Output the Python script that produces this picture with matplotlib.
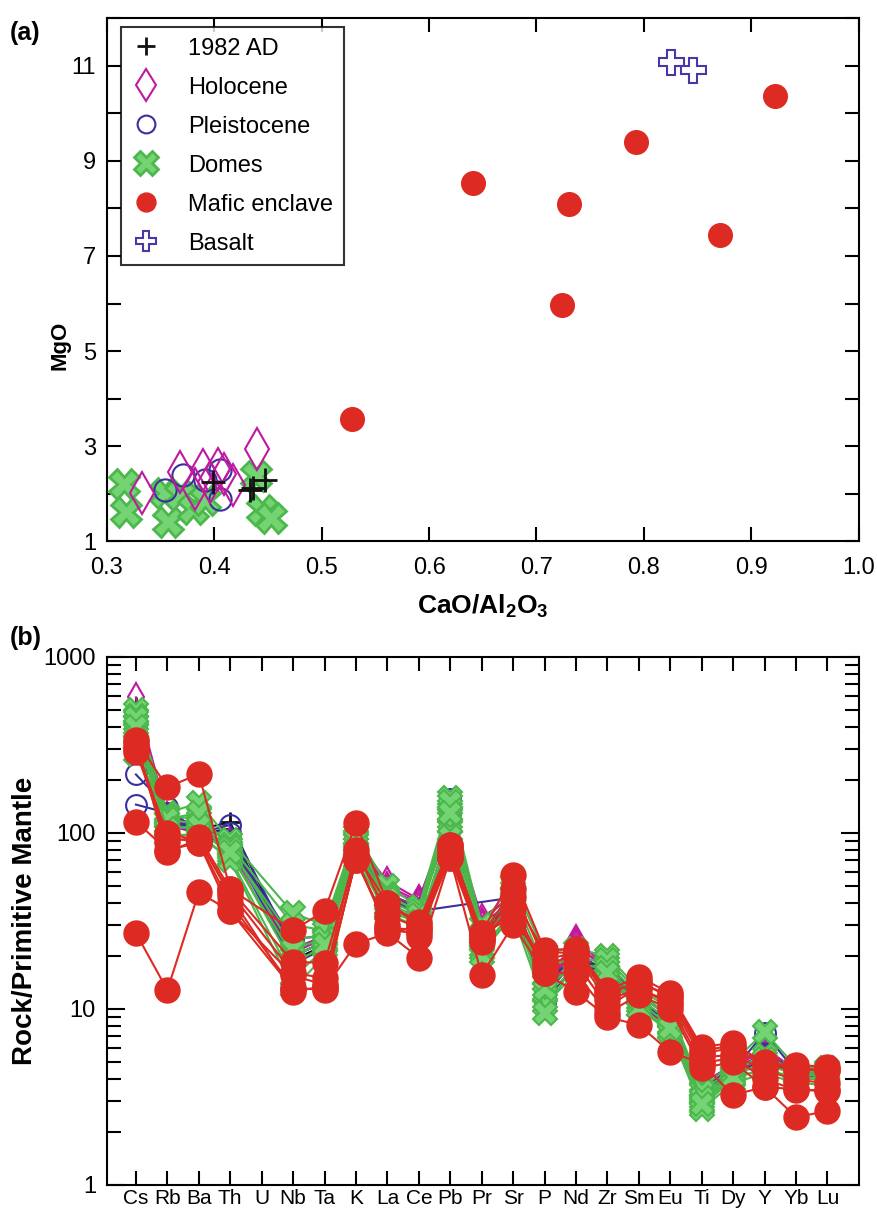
import numpy as np
import matplotlib
matplotlib.use("Agg")
from matplotlib import pyplot as plt
from matplotlib.ticker import MultipleLocator, LogLocator, NullFormatter

plt.rcParams["font.family"] = ["Liberation Sans", "DejaVu Sans"]
plt.rcParams["mathtext.fontset"] = "custom"
plt.rcParams["mathtext.rm"] = "Liberation Sans"
plt.rcParams["mathtext.bf"] = "Liberation Sans:bold"

# ---- panel (a): CaO/Al2O3 vs MgO ----
ad1982_x = [0.399, 0.436, 0.447, 0.433]
ad1982_y = [2.24, 2.13, 2.28, 2.07]
holocene_x = [0.333, 0.368, 0.389, 0.396, 0.403, 0.409, 0.417, 0.382, 0.440]
holocene_y = [2.01, 2.45, 2.49, 2.24, 2.53, 2.41, 2.18, 2.11, 2.95]
pleist_x = [0.354, 0.371, 0.405, 0.405, 0.391]
pleist_y = [2.07, 2.39, 2.49, 1.90, 2.28]
domes_x = [0.316, 0.318, 0.354, 0.357, 0.368, 0.380, 0.391, 0.439, 0.444, 0.453]
domes_y = [2.20, 1.61, 2.01, 1.40, 1.97, 1.69, 1.86, 2.37, 1.65, 1.48]
mafic_x = [0.528, 0.641, 0.724, 0.730, 0.793, 0.871, 0.922]
mafic_y = [3.58, 8.54, 5.96, 8.10, 9.40, 7.45, 10.37]
basalt_x = [0.825, 0.846]
basalt_y = [11.08, 10.90]

# ---- panel (b): primitive-mantle normalised spider diagram ----
elements = ["Cs", "Rb", "Ba", "Th", "U", "Nb", "Ta", "K", "La", "Ce", "Pb", "Pr",
            "Sr", "P", "Nd", "Zr", "Sm", "Eu", "Ti", "Dy", "Y", "Yb", "Lu"]
nan = np.nan
ad1982_spider = [
    [520, 120, 105, 115, nan, 20, 24, 85, 45, 38, 120, 28, 42, 13, 21, 16, 11, 8.0, 3.4, 4.5, 5.3, 4.3, 4.3],
    [480, 115, 100, 105, nan, 19, 23, 82, 43, 36, 115, 27, 40, 12, 20, 15, 10.5, 7.8, 3.3, 4.4, 5.0, 4.2, 4.2],
]
holocene_spider = [
    [590, 125, 110, 90, nan, 22, 26, 90, 53, 42, 125, 33, 44, 14, 25, 17, 11.5, 8.5, 3.8, 4.8, 6.0, 4.5, 4.4],
    [450, 115, 105, 85, nan, 20, 24, 85, 48, 40, 120, 30, 42, 13, 24, 16, 11, 8.0, 3.5, 4.6, 5.5, 4.3, 4.2],
    [400, 110, 100, 80, nan, 18, 23, 80, 45, 38, 110, 28, 40, 12, 22, 15, 10.5, 7.8, 3.3, 4.4, 5.2, 4.2, 4.1],
    [350, 120, 108, 82, nan, 21, 25, 88, 50, 41, 130, 31, 46, 13, 23, 17, 11, 8.2, 3.6, 4.7, 5.8, 4.4, 4.3],
]
pleist_spider = [
    [215, 140, 100, 111, nan, 22, 25, 85, 42, 36, 155, 28, 44, 13, 19, 17, 11, 8.5, 3.6, 4.5, 7.3, 4.4, 4.4],
    [145, 130, 95, 90, nan, 18, 22, 80, 40, 36, nan, nan, 43, 14, 20, 16, 11, 8.0, 3.4, 4.4, 5.5, 4.2, 4.2],
    [400, 120, 105, 100, nan, 20, 24, 90, 44, 37, 140, 26, 40, 12, 19, 17, 12, 9.0, 3.5, 4.6, 5.5, 4.5, 4.5],
    [350, 115, 100, 85, nan, 25, 26, 88, 45, 36, 130, 27, 42, 11, 18, 16, 11, 8.0, 3.3, 4.3, 5.0, 4.3, 4.3],
]
domes_spider = [
    [500, 130, 148, 91, nan, 35, 30, 100, 50, 38, 158, 30, 52, 21, 22, 20, 13, 10, 3.5, 5.0, 7.4, 4.7, 4.6],
    [460, 118, 114, 80, nan, 25, 26, 90, 45, 35, 140, 27, 45, 17, 20, 18, 12, 9.0, 3.2, 4.5, 5.5, 4.4, 4.4],
    [420, 110, 105, 75, nan, 20, 24, 85, 40, 33, 125, 24, 40, 14, 18, 17, 11, 8.0, 3.0, 4.2, 5.0, 4.2, 4.2],
    [380, 100, 95, 72, nan, 15, 22, 80, 38, 30, 110, 22, 36, 12, 17, 16, 10.5, 7.5, 2.8, 4.0, 4.6, 4.0, 4.0],
    [330, 95, 100, 70, nan, 13, 20, 70, 35, 29, 100, 21, 34, 10.5, 16, 15, 10, 7.4, 2.7, 3.8, 4.3, 3.8, 3.7],
    [280, 125, 120, 85, nan, 30, 28, 95, 44, 36, 150, 26, 48, 9.5, 19, 19, 12.5, 9.0, 3.4, 4.6, 5.2, 4.5, 4.5],
    [450, 120, 130, 82, nan, 22, 25, 92, 42, 34, 130, 25, 42, 13, 18, 17, 11.5, 8.5, 3.1, 4.3, 4.8, 4.3, 4.3],
    [400, 105, 110, 78, nan, 18, 23, 75, 36, 31, 95, 20, 38, 15, 17, 16, 10, 7.8, 2.9, 4.1, 4.5, 4.1, 4.0],
]
mafic_spider = [
    [27, 12.8, 46, 36, nan, 13, 13, 23.4, 27, 19.6, 72, 15.6, 30, 16, 12.5, 9.0, 8.1, 5.7, 4.9, 3.25, 3.6, 2.43, 2.63],
    [116, 80, 88, 36, nan, 15.5, 13.7, 70, 30, 25.7, 75, 25, 38, 17.3, 18.3, 10.3, 13.3, 10.5, 4.9, 5.3, 4.0, 3.46, 3.46],
    [338, 182, 216, 48, nan, 28, 36, 114, 40, 31, 85, 27, 58, 21.6, 22, 12.8, 15.2, 12.3, 6.1, 6.4, 4.9, 4.8, 4.7],
    [296, 89, 95, 48, nan, 18.5, 18.3, 75, 40, 30, 85, 25, 43, 21, 20.8, 12, 14.5, 11.5, 5.6, 6.0, 4.8, 4.5, 4.5],
    [310, 95, 88, 40, nan, 13.2, 12.8, 72, 28, 27, 72, 24, 38, 16, 16, 9.5, 12, 10, 4.6, 5.0, 3.6, 3.5, 3.4],
    [330, 78, 92, 44, nan, 12.5, 13.5, 70, 29, 28, 78, 27, 33, 18, 20, 11.3, 13, 11, 5.3, 5.5, 4.5, 3.95, 3.8],
    [290, 100, 90, 46, nan, 16, 15, 80, 34, 29, 82, 26, 48, 19, 21, 12.5, 14, 12, 5.8, 6.2, 5.0, 4.6, 4.5],
]

black = "#111111"
magenta = "#c0189f"
blue = "#3a2fa0"
green_edge = "#4cb84c"
green_face = "#74d474"
red = "#dd2a22"
purple = "#4b36a8"

fig = plt.figure(figsize=(8.77, 12.11), dpi=100)
ax1 = fig.add_axes([0.122, 0.553, 0.857, 0.432])
ax2 = fig.add_axes([0.122, 0.0215, 0.857, 0.436])

###
# panel (a)
ax1.plot(domes_x, domes_y, ls="none", marker="X", ms=21, mfc=green_face, mec=green_edge, mew=2, label="Domes", zorder=3)
ax1.plot(pleist_x, pleist_y, ls="none", marker="o", ms=16, mfc="none", mec=blue, mew=1.5, label="Pleistocene", zorder=4)
ax1.plot(holocene_x, holocene_y, ls="none", marker="d", ms=21, mfc="none", mec=magenta, mew=1.5, label="Holocene", zorder=5)
ax1.plot(ad1982_x, ad1982_y, ls="none", marker="+", ms=17, mec=black, mew=2, label="1982 AD", zorder=6)
ax1.plot(mafic_x, mafic_y, ls="none", marker="o", ms=17, mfc=red, mec=red, label="Mafic enclave", zorder=6)
ax1.plot(basalt_x, basalt_y, ls="none", marker="P", ms=18, mfc="white", mec=purple, mew=1.5, label="Basalt", zorder=6)

ax1.set_xlim(0.3, 1.0)
ax1.set_ylim(1, 12)
ax1.xaxis.set_major_locator(MultipleLocator(0.1))
ax1.yaxis.set_major_locator(MultipleLocator(2, offset=1))
ax1.yaxis.set_minor_locator(MultipleLocator(1))
ax1.tick_params(which="both", direction="in", top=True, right=True, length=10, width=1.5, labelsize=17)
ax1.tick_params(axis="x", pad=11)
ax1.tick_params(axis="y", pad=8)
ax1.set_xlabel(r"$\mathbf{CaO/Al_2O_3}$", fontsize=19, labelpad=10)
ax1.set_ylabel("MgO", fontsize=16, fontweight="bold")
ax1.yaxis.set_label_coords(-0.049, 0.375)

handles, labels = ax1.get_legend_handles_labels()
order = ["1982 AD", "Holocene", "Pleistocene", "Domes", "Mafic enclave", "Basalt"]
h = [handles[labels.index(o)] for o in order]
leg = ax1.legend(h, order, loc="upper left", fontsize=17, frameon=True, fancybox=False,
                 edgecolor="black", labelspacing=0.72, handletextpad=1.2, handlelength=1.2,
                 borderpad=0.45, borderaxespad=0, bbox_to_anchor=(0.0186, 0.983))
leg.get_frame().set_linewidth(1.5)
for lh in leg.legend_handles:
    lh.set_markersize(lh.get_markersize() * 0.8)

###
# panel (b)
xs = np.arange(len(elements))


def draw_group(series, color, marker, ms, mfc, mec, mew, z):
    for s in series:
        s = np.asarray(s, dtype=float)
        ok = np.isfinite(s)
        ax2.plot(xs[ok], s[ok], color=color, lw=1.5, marker=marker, ms=ms,
                 mfc=mfc, mec=mec, mew=mew, zorder=z)


draw_group(ad1982_spider, black, "+", 14, black, black, 2, 2)
draw_group(holocene_spider, magenta, "d", 14, "none", magenta, 1.5, 3)
draw_group(pleist_spider, blue, "o", 15, "none", blue, 1.5, 4)
draw_group(domes_spider, green_edge, "X", 17, green_face, green_edge, 1.5, 5)
draw_group(mafic_spider, red, "o", 18, red, red, 1, 6)

ax2.set_yscale("log")
ax2.set_ylim(1, 1000)
ax2.set_xlim(-0.92, 22.99)
ax2.set_xticks(xs)
ax2.set_xticklabels(elements)
ax2.yaxis.set_minor_locator(LogLocator(base=10, subs=np.arange(2, 10)))
ax2.yaxis.set_minor_formatter(NullFormatter())
ax2.set_yticks([1, 10, 100, 1000])
ax2.set_yticklabels(["1", "10", "100", "1000"])
ax2.tick_params(axis="y", which="major", direction="in", left=True, right=True, length=13, width=1.5,
                labelsize=17, pad=8)
ax2.tick_params(axis="y", which="minor", direction="in", left=True, right=True, length=10, width=1.5)
ax2.tick_params(axis="x", which="both", direction="in", top=True, bottom=True, length=10, width=1.5,
                labelsize=15, pad=3)
ax2.set_ylabel("Rock/Primitive Mantle", fontsize=20, fontweight="bold", labelpad=4)

for ax in (ax1, ax2):
    for sp in ax.spines.values():
        sp.set_linewidth(1.5)

fig.text(0.011, 0.967, "(a)", fontsize=18, fontweight="bold")
fig.text(0.011, 0.467, "(b)", fontsize=18, fontweight="bold")

fig.savefig("out.png", dpi=100)
